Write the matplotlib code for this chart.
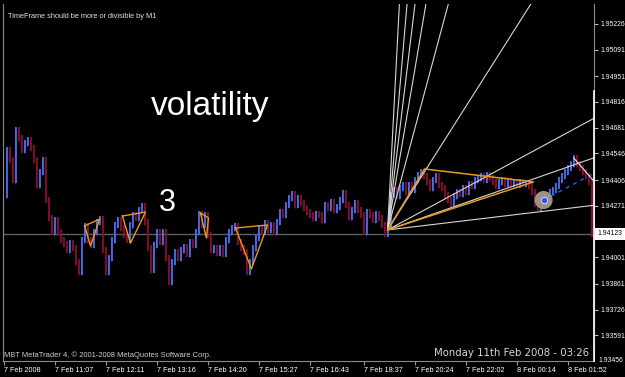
import matplotlib
matplotlib.use("Agg")
import matplotlib.pyplot as plt
import matplotlib.transforms as mtransforms
from matplotlib.patches import Rectangle
import numpy as np

# ---------------- data ----------------
closes = [
    1.94327, 1.94564, 1.94511, 1.94406, 1.94669, 1.94627, 1.94564, 1.94600, 1.94616, 1.94574,
    1.94511, 1.94380, 1.94448, 1.94511, 1.94301, 1.94207, 1.94133, 1.94196, 1.94133, 1.94091,
    1.94070, 1.94039, 1.94075, 1.94049, 1.93976, 1.93923, 1.94091, 1.94165, 1.94091, 1.94065,
    1.94133, 1.94186, 1.94201, 1.94039, 1.93923, 1.93997, 1.94091, 1.94170, 1.94196, 1.94154,
    1.94117, 1.94091, 1.94170, 1.94222, 1.94207, 1.94249, 1.94270, 1.94186, 1.94049, 1.93934,
    1.94065, 1.94133, 1.94081, 1.94133, 1.93997, 1.93871, 1.93976, 1.94028, 1.93997, 1.94039,
    1.94054, 1.94018, 1.94081, 1.94065, 1.94133, 1.94228, 1.94170, 1.94222, 1.94117, 1.94039,
    1.94049, 1.94023, 1.94049, 1.94018, 1.94091, 1.94133, 1.94154, 1.94165, 1.94081, 1.94049,
    1.94028, 1.93923, 1.93976, 1.94049, 1.94102, 1.94154, 1.94133, 1.94180, 1.94144, 1.94170,
    1.94133, 1.94186, 1.94238, 1.94222, 1.94275, 1.94312, 1.94333, 1.94275, 1.94312, 1.94285,
    1.94259, 1.94238, 1.94222, 1.94207, 1.94228, 1.94222, 1.94196, 1.94275, 1.94259, 1.94291,
    1.94249, 1.94264, 1.94301, 1.94338, 1.94275, 1.94212, 1.94249, 1.94285, 1.94249, 1.94222,
    1.94133, 1.94238, 1.94222, 1.94196, 1.94228, 1.94207, 1.94170, 1.94123, 1.94170, 1.94327,
    1.94354, 1.94322, 1.94364, 1.94380, 1.94343, 1.94380, 1.94354, 1.94406, 1.94432, 1.94448,
    1.94427, 1.94396, 1.94364, 1.94406, 1.94427, 1.94380, 1.94364, 1.94327, 1.94301, 1.94280,
    1.94322, 1.94343, 1.94333, 1.94364, 1.94343, 1.94385, 1.94375, 1.94406, 1.94417, 1.94427,
    1.94406, 1.94432, 1.94417, 1.94396, 1.94375, 1.94396, 1.94406, 1.94385, 1.94401, 1.94385,
    1.94396, 1.94380, 1.94396, 1.94385, 1.94390, 1.94375, 1.94343, 1.94280, 1.94259, 1.94291,
    1.94301, 1.94322, 1.94343, 1.94354, 1.94375, 1.94406, 1.94427, 1.94448, 1.94469, 1.94490,
    1.94522, 1.94490, 1.94469, 1.94448, 1.94427, 1.94396, 1.94123,
]

price_ticks = [1.95226, 1.95091, 1.94951, 1.94816, 1.94681, 1.94546, 1.94406,
               1.94271, 1.94001, 1.93861, 1.93726, 1.93591, 1.93456]
current_price = 1.94123

time_tick_bars = [0, 17, 34, 51, 68, 85, 102, 120, 137, 154, 171, 188]
time_tick_labels = ["7 Feb 2008", "7 Feb 11:07", "7 Feb 12:11", "7 Feb 13:16",
                    "7 Feb 14:20", "7 Feb 15:27", "7 Feb 16:43", "7 Feb 18:37",
                    "7 Feb 20:24", "7 Feb 22:02", "8 Feb 00:14", "8 Feb 01:52"]

# small volatility triangles (bar, price) vertices
tri_bars = [[26.7, 31.7, 28.7], [39.3, 47.0, 42.0], [65.3, 68.0, 67.3], [77.0, 87.7, 82.3]]
tri_prices = [[1.94165, 1.94201, 1.94060], [1.94217, 1.94238, 1.94075],
              [1.94233, 1.94207, 1.94102], [1.94154, 1.94170, 1.93939]]

# big orange triangle
big_tri_bars = [127.7, 140.0, 176.3]
big_tri_prices = [1.94144, 1.94464, 1.94396]

# fan
fan_origin_bar = 127.7
fan_origin_price = 1.94144
fan_end_bars = [131.7, 134.3, 137.0, 140.7, 148.3, 176.3, 197.3, 197.3, 197.3]
fan_end_prices = [1.95351, 1.95351, 1.95351, 1.95351, 1.95351, 1.95351, 1.94737, 1.94527, 1.94275]

circle_bar, circle_price = 179.7, 1.94301
dash_bars = [179.7, 197.3]
dash_prices = [1.94301, 1.94448]
peak_line_bars = [189.7, 196.7]
peak_line_prices = [1.94522, 1.94396]

# ---------------- figure ----------------
W, H = 625, 377
fig = plt.figure(figsize=(W / 100, H / 100), dpi=100, facecolor="black")
L, R, T, B = 3, 594, 4, 361
ax = fig.add_axes([L / W, (H - B) / H, (R - L) / W, (B - T) / H])
ax.set_facecolor("black")
ax.set_xlim(-0.5, 196.5)
ax.set_ylim(1.93456, 1.95330)

blue = "#4a6ef0"
red = "#8c0c30"
wick = 0.00017
xs = np.arange(len(closes))
lo, hi, cols = [], [], []
for i in range(1, len(closes)):
    a, b = closes[i - 1], closes[i]
    lo.append(min(a, b) - wick)
    hi.append(max(a, b) + wick)
    cols.append(blue if b >= a else red)
ax.vlines(xs[1:], lo, hi, colors=cols, linewidth=1.3, zorder=3)
ax.vlines(xs[1:] - 0.5, lo, hi, colors=cols, linewidth=0.6, alpha=0.8, zorder=3)

# current price horizontal line
ax.axhline(current_price, color="#56656a", linewidth=1.0, zorder=2)

orange = "#e59a22"
for bx, py in zip(tri_bars, tri_prices):
    ax.plot(bx + [bx[0]], py + [py[0]], color=orange, linewidth=1.0, zorder=4)
ax.plot(big_tri_bars + [big_tri_bars[0]], big_tri_prices + [big_tri_prices[0]],
        color=orange, linewidth=1.1, zorder=5)

for ex, ep in zip(fan_end_bars, fan_end_prices):
    ax.plot([fan_origin_bar, ex], [fan_origin_price, ep], color="#d8d8d0",
            linewidth=0.8, zorder=4)

ax.plot(dash_bars, dash_prices, color="#2f55ff", linewidth=1.0, linestyle=(0, (3, 3)), zorder=5)
ax.plot(peak_line_bars, peak_line_prices, color="#e8e8e8", linewidth=0.8, zorder=5)

ax.scatter([circle_bar], [circle_price], s=170, color="#9a9282", zorder=6, edgecolors="none")
ax.scatter([circle_bar], [circle_price], s=22, color="#3050ff", zorder=7, edgecolors="white", linewidths=0.5)

# spines
ax.spines["top"].set_visible(False)
ax.spines["left"].set_color("#8a8a8a")
ax.spines["right"].set_color("#8a8a8a")
ax.spines["bottom"].set_color("#8a8a8a")
ax.spines["bottom"].set_linestyle((0, (1, 1)))
ax.plot([1.0, 1.0], [0, 0.755], transform=ax.transAxes, color="white",
        linewidth=1.2, clip_on=False, zorder=8)

# x ticks
ax.set_xticks(time_tick_bars)
ax.set_xticklabels(time_tick_labels, ha="left", fontsize=5.2, color="white",
                   family="Liberation Sans")
ax.tick_params(axis="x", colors="#9a9a9a", length=3, width=0.8, pad=1.5,
               labelcolor="white")

# y ticks on right
ax.yaxis.tick_right()
ax.set_yticks([p for p in price_ticks if p > 1.93456])
ax.set_yticklabels([f"{p:.5f}" for p in price_ticks if p > 1.93456],
                   fontsize=4.9, color="white", family="Liberation Sans")
ax.tick_params(axis="y", colors="#bbbbbb", length=3, width=0.8, pad=1.5,
               labelcolor="white")
blend = mtransforms.blended_transform_factory(ax.transAxes, ax.transData)
ax.text(1.0 + 4.5 / (R - L), 1.93456, f"{1.93456:.5f}", transform=blend, fontsize=4.9,
        color="white", family="Liberation Sans", va="center", ha="left", clip_on=False)

# current price box
ax.add_patch(Rectangle((1.0 + 1 / (R - L), current_price - 0.00030), 31 / (R - L), 0.00060,
                       transform=blend, facecolor="white", edgecolor="none",
                       clip_on=False, zorder=9))
ax.text(1.0 + 3 / (R - L), current_price, f"{current_price:.5f}", transform=blend,
        fontsize=4.9, color="black", family="Liberation Sans", va="center", ha="left",
        clip_on=False, zorder=10)

# texts
fig.text(8 / W, 1 - 16 / H, "TimeFrame should be more or divisible by M1", fontsize=5.3,
         color="#e0e0e0", family="Liberation Sans", va="center", ha="left")
fig.text(210 / W, 1 - 106 / H, "volatility", fontsize=24, color="white",
         family="Liberation Sans", va="center", ha="center")
fig.text(167 / W, 1 - 203 / H, "3", fontsize=22, color="white",
         family="Liberation Sans", va="center", ha="center")
fig.text(4 / W, 1 - 355 / H, "MBT MetaTrader 4, \u00a9 2001-2008 MetaQuotes Software Corp.",
         fontsize=5.4, color="#d0d0d0", family="Liberation Sans", va="center", ha="left")
fig.text(589 / W, 1 - 353 / H, "Monday 11th Feb 2008 - 03:26", fontsize=7.3,
         color="#d8d8d8", family="DejaVu Sans", va="center", ha="right")

fig.savefig("out.png", dpi=100, facecolor="black")
